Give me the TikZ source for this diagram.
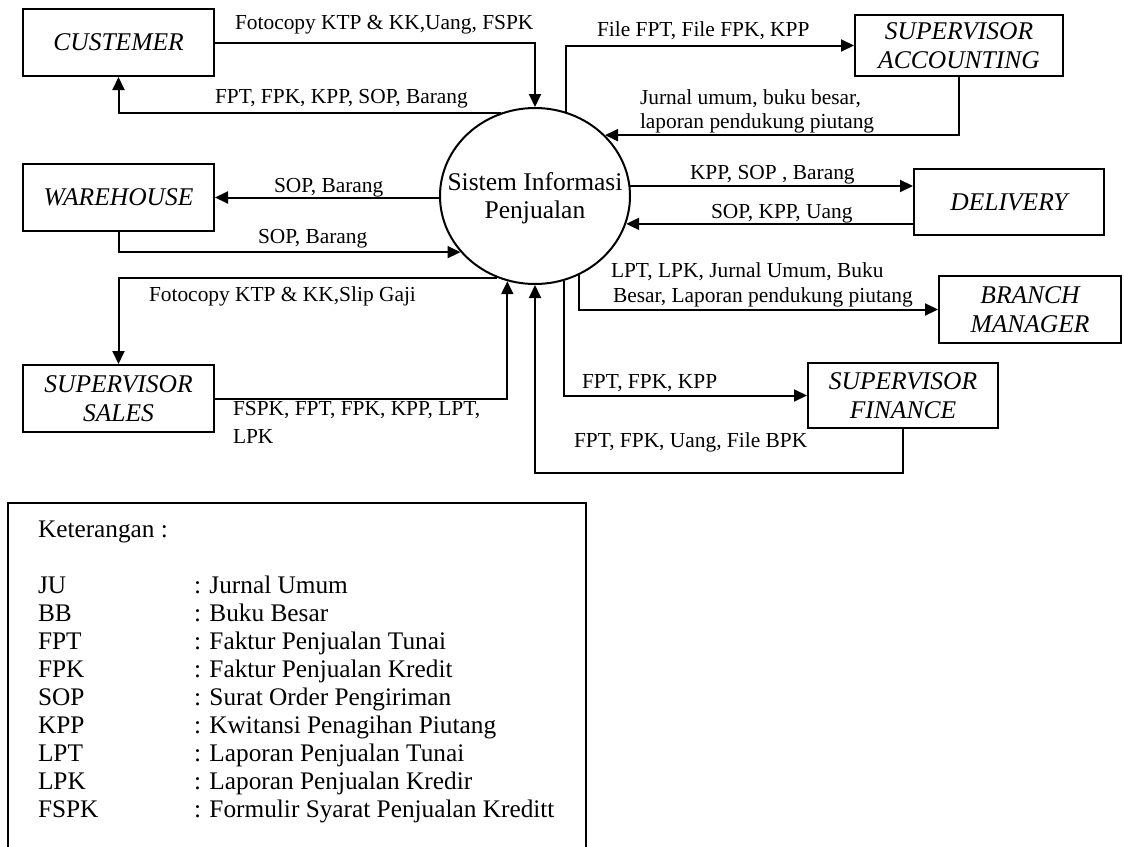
\documentclass[tikz,border=0pt]{standalone}
\usepackage{fontspec}
\setmainfont{Liberation Serif}
\usetikzlibrary{arrows.meta,shapes.geometric}
\begin{document}
\begin{tikzpicture}[x=1pt,y=-1pt,line width=2pt,
  entity/.style={draw, rectangle, inner sep=0pt, align=center,
    font=\fontsize{25.5}{28.5}\selectfont\itshape},
  flow/.style={-{Triangle[length=13pt,width=12pt]}},
  lbl/.style={anchor=base west, inner sep=0pt, font=\fontsize{21.4}{24}\selectfont},
  legtext/.style={anchor=base west, inner sep=0pt, font=\fontsize{25.3}{28}\selectfont}]

\useasboundingbox (0,0) rectangle (1124,846);
\clip (0,0) rectangle (1124,846);

% central process
\node[draw, ellipse, inner sep=0pt, minimum width=190pt, minimum height=176pt] (sys) at (535,196) {};
\node[align=center, inner sep=0pt, font=\fontsize{25.5}{28}\selectfont] (systext) at (535,198) {Sistem Informasi\\Penjualan};

% external entities
\node[entity, minimum width=191pt, minimum height=67pt] (cust) at (118.5,42.5) {CUSTEMER};
\node[entity, minimum width=191pt, minimum height=67pt] (wh)   at (118.5,197.5) {WAREHOUSE};
\node[entity, minimum width=191pt, minimum height=67pt] (ss)   at (118.5,398.5) {SUPERVISOR\\SALES};
\node[entity, minimum width=208pt, minimum height=61pt] (sa)   at (959,45.5) {SUPERVISOR\\ACCOUNTING};
\node[entity, minimum width=190pt, minimum height=66pt] (del)  at (1009,202) {DELIVERY};
\node[entity, minimum width=182pt, minimum height=67pt] (bm)   at (1030,309.5) {BRANCH\\MANAGER};
\node[entity, minimum width=190pt, minimum height=65pt] (sf)   at (903,395.5) {SUPERVISOR\\FINANCE};

\coordinate (fin) at (535,473);

% data flows
\draw[flow] (cust.east) -| (sys.north);
\draw[flow] (sys.112.8) -| (cust.south);
\draw[flow] (sys.70.2) |- (sa.west);
\draw[flow] (sa.south) |- (sys.41.7);
\draw[flow] (wh.east -| sys.west) -- (wh.east);
\draw[flow] (wh.south) |- (sys.217.4);
\draw[flow] (sys.245.4) -| (ss.north);
\draw[flow] (ss.east) -| (sys.252.9);
\draw[flow] (sys.6.7) -- (del.west |- sys.6.7);
\draw[flow] (del.west |- sys.343.4) -- (sys.343.4);
\draw[flow] (sys.299.4) |- (bm.west);
\draw[flow] (sys.289.8) |- (sf.west);
\draw[flow] (sf.south) |- (fin) -- (sys.south);

% flow labels
\node[lbl] (l1)  at (234,29)  {Fotocopy KTP \& KK,Uang, FSPK};
\node[lbl] (l2)  at (214,103) {FPT, FPK, KPP, SOP, Barang};
\node[lbl] (l3)  at (596,36)  {File FPT, File FPK, KPP};
\node[lbl] (l4a) at (639,104) {Jurnal umum, buku besar,};
\node[lbl] (l4b) at (639,128) {laporan pendukung piutang};
\node[lbl] (l5)  at (273,192) {SOP, Barang};
\node[lbl] (l6)  at (257,243) {SOP, Barang};
\node[lbl] (l7)  at (148,301) {Fotocopy KTP \& KK,Slip Gaji};
\node[lbl] (l8a) at (232,415) {FSPK, FPT, FPK, KPP, LPT,};
\node[lbl] (l8b) at (232,443) {LPK};
\node[lbl] (l9)  at (689,179) {KPP, SOP , Barang};
\node[lbl] (l10) at (710,218) {SOP, KPP, Uang};
\node[lbl] (l11a) at (610,277) {LPT, LPK, Jurnal Umum, Buku};
\node[lbl] (l11b) at (612,302) {Besar, Laporan pendukung piutang};
\node[lbl] (l12) at (581,388) {FPT, FPK, KPP};
\node[lbl] (l13) at (573,447) {FPT, FPK, Uang, File BPK};

% legend
\draw (8,503) rectangle (586,880);
\node[legtext] (ket) at (37,537) {Keterangan :};
\foreach \ab/\desc [count=\i from 0] in {
  JU/Jurnal Umum, BB/Buku Besar, FPT/Faktur Penjualan Tunai,
  FPK/Faktur Penjualan Kredit, SOP/Surat Order Pengiriman,
  KPP/Kwitansi Penagihan Piutang, LPT/Laporan Penjualan Tunai,
  LPK/Laporan Penjualan Kredir, FSPK/Formulir Syarat Penjualan Kreditt} {
  \node[legtext] (ab\i) at (37,{593+28.1*\i}) {\ab};
  \node[legtext] (de\i) at (193,{593+28.1*\i}) {: \desc};
}
\end{tikzpicture}
\end{document}
